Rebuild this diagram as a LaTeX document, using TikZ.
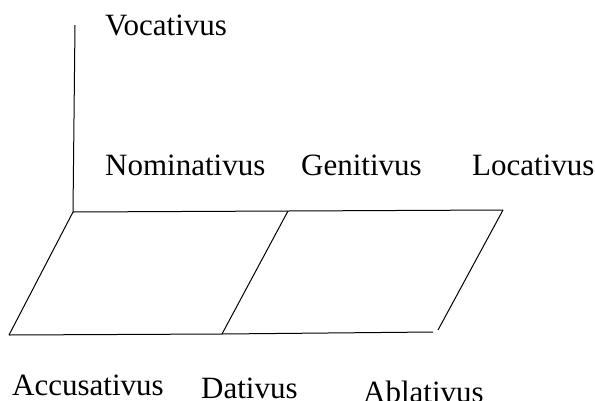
\documentclass[tikz,border=0pt]{standalone}
\usepackage{fontspec}
\setmainfont{Liberation Serif}
\begin{document}
\begin{tikzpicture}[x=1pt,y=-1pt,
  edge/.style={draw=black,line width=1pt},
  caselabel/.style={anchor=base west,inner sep=0pt,font=\fontsize{31}{37}\selectfont}]
\useasboundingbox (0,0) rectangle (595,400);
% corners of the two parallelograms and the upright axis
\coordinate (axtop) at (75,25);
\coordinate (tl) at (73,212);
\coordinate (tm) at (288,211);
\coordinate (tr) at (503,210);
\coordinate (bl) at (9,335);
\coordinate (bm) at (222,334);
\coordinate (br) at (433,332);
\coordinate (rdiag) at (438,330);
\draw[edge] (axtop) -- (tl);
\draw[edge] (tl) -- (tm) -- (tr);
\draw[edge] (bl) -- (bm) -- (br);
\draw[edge] (tl) -- (bl);
\draw[edge] (tm) -- (bm);
\draw[edge] (tr) -- (rdiag);
% case names
\node[caselabel] (voc) at (105,35) {Vocativus};
\node[caselabel] (nom) at (105,175) {Nominativus};
\node[caselabel] (gen) at (301,175) {Genitivus};
\node[caselabel] (loc) at (472,175) {Locativus};
\node[caselabel] (acc) at (12,395) {Accusativus};
\node[caselabel] (dat) at (201,398) {Dativus};
\node[caselabel] (abl) at (363,402) {Ablativus};
\end{tikzpicture}
\end{document}
